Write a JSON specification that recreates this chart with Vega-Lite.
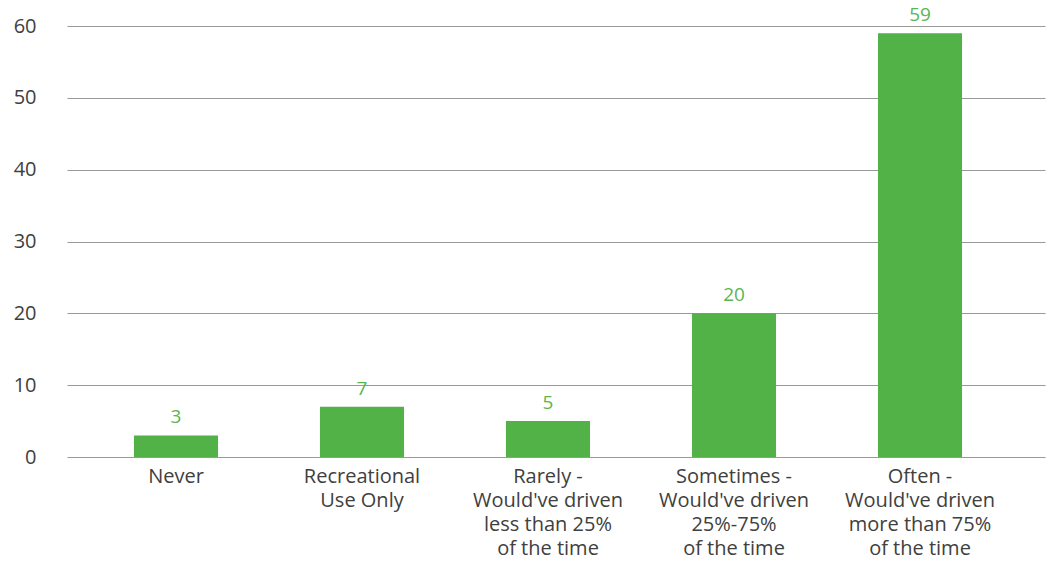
{
  "$schema": "https://vega.github.io/schema/vega-lite/v6.json",
  "autosize": "none",
  "width": 978,
  "height": 431,
  "padding": {"left": 67, "top": 26, "right": 8, "bottom": 104},
  "background": "white",
  "data": {
    "values": [
      {"category": "Never", "value": 3},
      {"category": "Recreational\nUse Only", "value": 7},
      {"category": "Rarely -\nWould've driven\nless than 25%\nof the time", "value": 5},
      {"category": "Sometimes -\nWould've driven\n25%-75%\nof the time", "value": 20},
      {"category": "Often -\nWould've driven\nmore than 75%\nof the time", "value": 59}
    ]
  },
  "config": {
    "view": {"stroke": null},
    "font": "Open Sans"
  },
  "encoding": {
    "x": {
      "field": "category",
      "type": "nominal",
      "sort": null,
      "title": null,
      "scale": {"paddingInner": 0.548, "paddingOuter": 0.403},
      "axis": {
        "labelAngle": 0,
        "labelExpr": "split(datum.label, '\\n')",
        "labelFont": "Open Sans",
        "labelFontSize": 20,
        "labelColor": "#404040",
        "labelLineHeight": 24,
        "labelPadding": 9,
        "labelOffset": -8,
        "ticks": false,
        "domain": false,
        "labelLimit": 0
      }
    },
    "y": {
      "field": "value",
      "type": "quantitative",
      "title": null,
      "scale": {"domain": [0, 60], "nice": false},
      "axis": {
        "values": [0, 10, 20, 30, 40, 50, 60],
        "labelFont": "Open Sans",
        "labelFontSize": 20,
        "labelColor": "#404040",
        "labelPadding": 31,
        "ticks": false,
        "domain": false,
        "gridColor": "#9a9a9a",
        "gridWidth": 1,
        "gridOpacity": 1
      }
    }
  },
  "layer": [
    {
      "mark": {"type": "bar", "color": "#52b147", "xOffset": -8}
    },
    {
      "mark": {"type": "text", "color": "#5ab552", "font": "Open Sans", "fontSize": 19, "baseline": "bottom", "dy": -8, "xOffset": -8},
      "encoding": {"text": {"field": "value", "type": "quantitative"}}
    }
  ]
}
